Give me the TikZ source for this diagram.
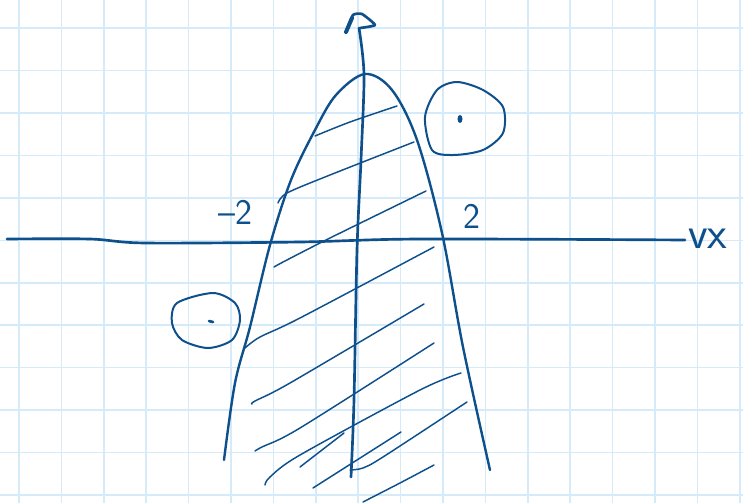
\documentclass[tikz,border=0pt]{standalone}
\definecolor{inkblue}{RGB}{14, 80, 140}
\definecolor{gridblue}{RGB}{214, 235, 250}
\usepackage{tikz}

\begin{document}
\begin{tikzpicture}[x=0.75pt, y=-0.75pt, line cap=round, line join=round]
\useasboundingbox (0,0) rectangle (743,503);
\fill[white] (0,0) rectangle (743,503);
% squared paper
\foreach \gx in {0,...,17} \draw[gridblue, line width=1.2pt] ({19+42.4*\gx},0) -- ({19+42.4*\gx},503);
\foreach \gy in {0,...,11} \draw[gridblue, line width=1.2pt] (0,{28.3+42.4*\gy}) -- (743,{28.3+42.4*\gy});
% axes
\draw[inkblue, line width=2pt] plot[smooth] coordinates {(7,239) (90,239) (145,243) (300,242) (420,239) (685,240)};
\draw[inkblue, line width=2pt] plot[smooth] coordinates {(351,477) (354,400) (357,250) (361,160) (364,75) (359,28)};
\draw[inkblue, line width=2pt] plot[smooth, tension=0.3] coordinates {(346,32) (353,15) (362,14) (375,25) (360,28)};
\draw[inkblue, line width=3pt] (346,32) -- (352,18);
% parabola
\draw[inkblue, line width=1.8pt] plot[smooth, tension=0.55] coordinates {(224,460) (235,383) (250,327) (270,245) (291,180) (315,130) (336,95) (365,74) (392,90) (417,140) (442,233) (463,347) (490,470)};
% hatching
\foreach \hatch in {
  {(315,136) (350,122) (397,106)},
  {(278,203) (287,193) (330,175) (414,142)},
  {(274,267) (285,261) (330,238) (426,191)},
  {(245,348) (260,337) (300,318) (434,247)},
  {(252,404) (255,401) (290,383) (424,304)},
  {(255,451) (262,447) (300,428) (434,343)},
  {(265,485) (270,477) (300,455) (420,390) (461,373)},
  {(300,467) (322,450) (344,433)},
  {(313,488) (357,460) (401,432)},
  {(350,470) (363,468) (383,457) (467,402)},
  {(363,502) (400,483) (434,465)}}
  \draw[inkblue, line width=1.1pt] plot[smooth] coordinates \hatch;
% the two regions
\draw[inkblue, line width=1.5pt] plot[smooth cycle] coordinates {(457,82) (483,90) (503,107) (503,133) (483,150) (453,155) (432,150) (425,117) (437,90)};
\fill[inkblue] (460,119) ellipse (2.5 and 4);
\draw[inkblue, line width=1.5pt] plot[smooth cycle] coordinates {(177,303) (213,293) (235,303) (240,320) (232,340) (208,348) (182,340) (172,323)};
\draw[inkblue, line width=2pt] (209,321) -- (213,322);
% labels
\node[text=inkblue, font=\sffamily\fontsize{27}{30}\selectfont] (lblneg) at (235,212) {--2};
\node[text=inkblue, font=\sffamily\fontsize{27}{30}\selectfont] (lblpos) at (472,216) {2};
\node[text=inkblue, font=\sffamily\fontsize{34}{38}\selectfont, anchor=west, inner sep=0pt] (lblvx) at (688,239) {vx};
\end{tikzpicture}
\end{document}
